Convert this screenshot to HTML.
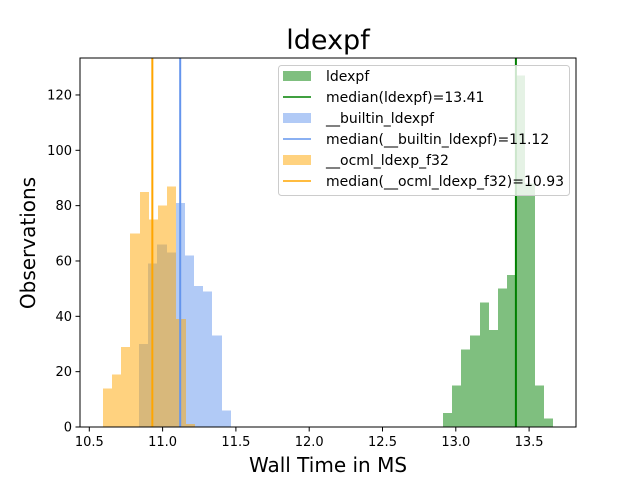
<!DOCTYPE html>
<html><head><meta charset="utf-8"><style>
body{margin:0;background:#fff}
svg{display:block;font-family:"DejaVu Sans","Liberation Sans",sans-serif}
</style></head><body>
<svg id="c" width="640" height="480">
<rect width="640" height="480" fill="#fff"/>
<text x="328" y="49" font-size="27" text-anchor="middle">ldexpf</text>
<g id="bars" shape-rendering="crispEdges"></g>
<g id="medians"></g>
<rect x="80" y="58" width="496" height="369" fill="none" stroke="#000" stroke-width="1"/>
<g id="xt"></g><g id="yt"></g>
<text x="328" y="472" font-size="20" text-anchor="middle">Wall Time in MS</text>
<text transform="translate(35,243) rotate(-90)" font-size="20" text-anchor="middle">Observations</text>
<g id="legend"></g>
</svg>
<script>
const greenStart=12.912, blueStart=10.839, orangeStart=10.593;
const binWidth=0.0626;
const greenCounts=[5,15,28,33,45,35,50,55,127,88,15,3];
const blueCounts=[30,59,66,63,81,62,51,49,33,6];
const orangeCounts=[14,19,29,70,85,75,80,87,39,1];
const medians=[13.41,11.12,10.93];
const xTicks=[10.5,11.0,11.5,12.0,12.5,13.0,13.5];
const yTicks=[0,20,40,60,80,100,120];
const labels=["ldexpf","median(ldexpf)=13.41","__builtin_ldexpf","median(__builtin_ldexpf)=11.12","__ocml_ldexp_f32","median(__ocml_ldexp_f32)=10.93"];

const NS="http://www.w3.org/2000/svg";
const X=v=>89.3+(v-10.5)*146.6;
const Y=v=>427-v*2.767;
function mk(tag,attrs,parent){const e=document.createElementNS(NS,tag);for(const k in attrs)e.setAttribute(k,attrs[k]);parent.appendChild(e);return e;}
const bars=document.getElementById('bars');
function series(start,counts,color,name){
  const g=mk('g',{fill:color,'fill-opacity':0.5},bars);
  counts.forEach((c,i)=>{
    const x0=Math.round(X(start+i*binWidth)),x1=Math.round(X(start+(i+1)*binWidth));
    const r=mk('rect',{x:x0,y:Y(c),width:x1-x0,height:Y(0)-Y(c)},g);
    
    
  });
}
series(greenStart,greenCounts,'#008000','ldexpf');
series(blueStart,blueCounts,'#6495ED','builtin-ldexpf');
series(orangeStart,orangeCounts,'#FFA500','ocml-ldexp-f32');
const medColors=['#008000','#6495ED','#FFA500'];
const mg=document.getElementById('medians');
medians.forEach((m,i)=>{
  const l=mk('line',{x1:X(m),x2:X(m),y1:58,y2:427,stroke:medColors[i],'stroke-width':2},mg);
  
  
});
const xt=document.getElementById('xt');
xTicks.forEach(t=>{
  mk('line',{x1:X(t),x2:X(t),y1:427,y2:431.5,stroke:'#000'},xt);
  const tx=mk('text',{x:X(t),y:446,'font-size':13,'text-anchor':'middle'},xt);tx.textContent=t.toFixed(1);
  
  
});
const yt=document.getElementById('yt');
yTicks.forEach(t=>{
  mk('line',{x1:75.5,x2:80,y1:Y(t),y2:Y(t),stroke:'#000'},yt);
  const tx=mk('text',{x:72,y:Y(t)+4.5,'font-size':13,'text-anchor':'end'},yt);tx.textContent=t;
  
  
});
const lg=document.getElementById('legend');
mk('rect',{x:278.5,y:65.5,width:291,height:130,rx:3,fill:'#fff','fill-opacity':0.8,stroke:'#ccc'},lg);
const lc=['#008000','#008000','#6495ED','#6495ED','#FFA500','#FFA500'];
labels.forEach((s,i)=>{
  const y=76+i*21;
  if(i%2==0) mk('rect',{x:283,y:y-5,width:28,height:10,fill:lc[i],'fill-opacity':0.5},lg);
  else mk('line',{x1:283,x2:311,y1:y,y2:y,stroke:lc[i],'stroke-width':1.5},lg);
  const tx=mk('text',{x:326,y:y+5,'font-size':14},lg);tx.textContent=s;
  
  
});
</script>
</body></html>
